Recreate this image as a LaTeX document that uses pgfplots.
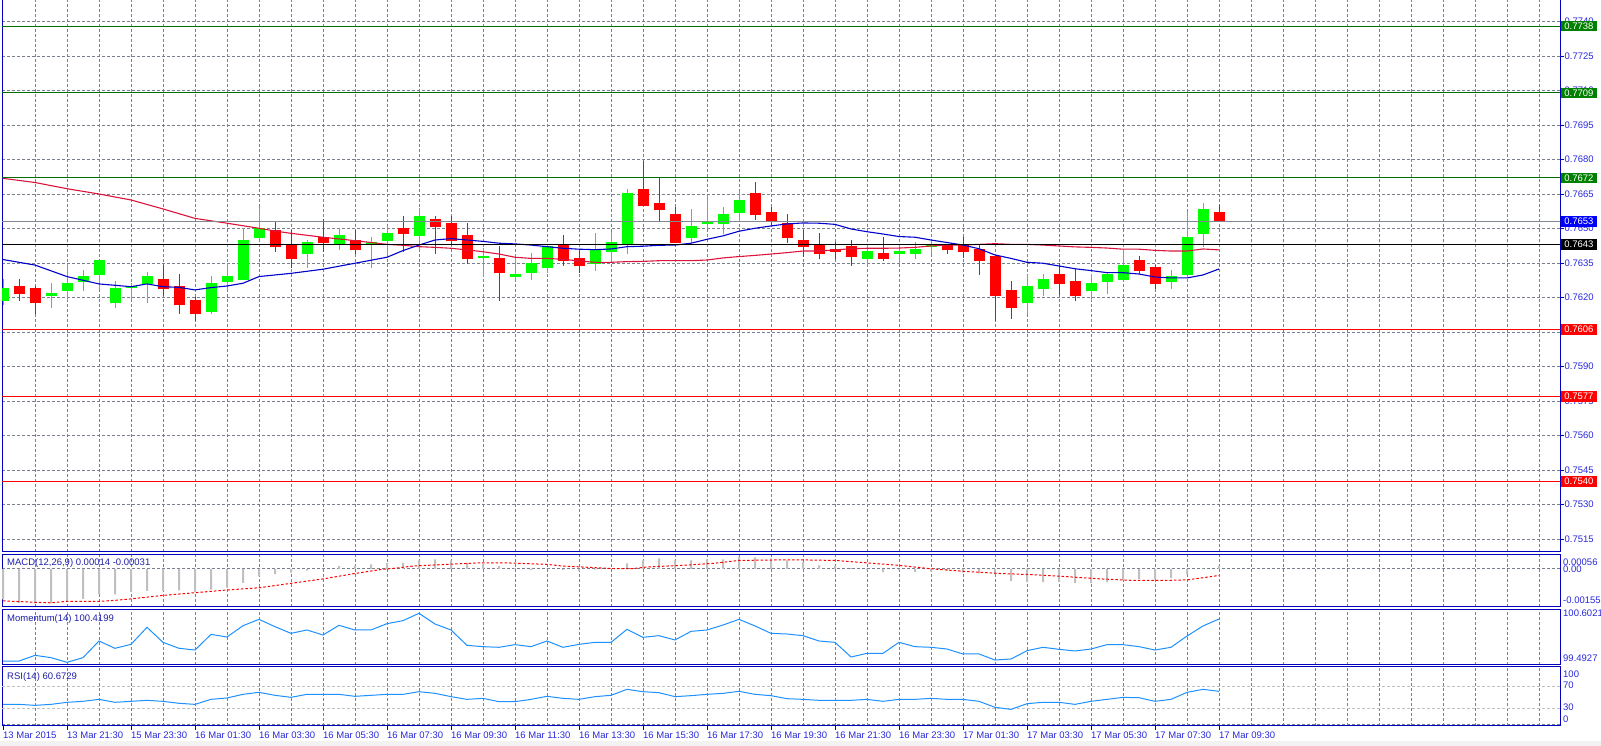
\documentclass[border=0pt]{standalone}
\usepackage{fontspec}
\setmainfont{Liberation Sans}
\usepackage{pgfplots}
\usepackage{pgfplotstable}
\pgfplotsset{compat=1.18}

\definecolor{upc}{RGB}{0,255,0}
\definecolor{dnc}{RGB}{255,0,0}
\definecolor{gridc}{RGB}{119,128,140}
\definecolor{axc}{RGB}{0,0,190}
\definecolor{lblc}{RGB}{40,40,220}
\definecolor{lvlgreen}{RGB}{0,110,0}
\definecolor{boxgreen}{RGB}{0,128,0}
\definecolor{bidgray}{RGB}{128,136,146}
\definecolor{maBlue}{RGB}{0,0,205}
\definecolor{maRed}{RGB}{220,20,60}
\definecolor{histc}{RGB}{192,192,192}
\definecolor{indc}{RGB}{30,144,255}
\definecolor{titlec}{RGB}{30,30,170}
\definecolor{lvlc}{RGB}{192,192,192}

\newcommand{\lf}{\fontsize{9.5bp}{10.5bp}\selectfont}

\pgfplotstableread{
i o h l c
0 0.76186 0.76280 0.76170 0.76243
1 0.76250 0.76280 0.76186 0.76215
2 0.76241 0.76250 0.76128 0.76178
3 0.76208 0.76262 0.76156 0.76220
4 0.76230 0.76346 0.76186 0.76262
5 0.76269 0.76320 0.76230 0.76294
6 0.76298 0.76363 0.76238 0.76363
7 0.76176 0.76272 0.76156 0.76241
8 0.76243 0.76262 0.76196 0.76250
9 0.76259 0.76311 0.76176 0.76294
10 0.76280 0.76341 0.76208 0.76238
11 0.76250 0.76302 0.76128 0.76167
12 0.76189 0.76204 0.76098 0.76128
13 0.76137 0.76294 0.76128 0.76263
14 0.76267 0.76350 0.76230 0.76294
15 0.76276 0.76502 0.76276 0.76450
16 0.76459 0.76594 0.76446 0.76502
17 0.76494 0.76533 0.76398 0.76420
18 0.76430 0.76494 0.76328 0.76369
19 0.76389 0.76450 0.76328 0.76441
20 0.76463 0.76541 0.76398 0.76437
21 0.76433 0.76502 0.76407 0.76472
22 0.76450 0.76494 0.76389 0.76407
23 0.76433 0.76463 0.76328 0.76441
24 0.76446 0.76511 0.76385 0.76481
25 0.76502 0.76555 0.76398 0.76478
26 0.76469 0.76588 0.76402 0.76555
27 0.76541 0.76555 0.76389 0.76508
28 0.76524 0.76555 0.76428 0.76447
29 0.76472 0.76524 0.76346 0.76369
30 0.76376 0.76415 0.76291 0.76381
31 0.76372 0.76424 0.76186 0.76307
32 0.76291 0.76376 0.76278 0.76302
33 0.76308 0.76394 0.76278 0.76350
34 0.76330 0.76433 0.76308 0.76424
35 0.76428 0.76472 0.76338 0.76360
36 0.76372 0.76411 0.76308 0.76338
37 0.76347 0.76481 0.76317 0.76411
38 0.76399 0.76485 0.76352 0.76441
39 0.76433 0.76672 0.76389 0.76655
40 0.76672 0.76794 0.76598 0.76598
41 0.76611 0.76720 0.76533 0.76581
42 0.76563 0.76594 0.76437 0.76437
43 0.76459 0.76585 0.76437 0.76511
44 0.76520 0.76642 0.76498 0.76533
45 0.76520 0.76594 0.76476 0.76563
46 0.76568 0.76663 0.76533 0.76624
47 0.76655 0.76702 0.76537 0.76559
48 0.76572 0.76594 0.76511 0.76528
49 0.76524 0.76563 0.76437 0.76459
50 0.76450 0.76494 0.76376 0.76420
51 0.76428 0.76481 0.76367 0.76389
52 0.76411 0.76441 0.76367 0.76398
53 0.76424 0.76450 0.76337 0.76376
54 0.76367 0.76428 0.76337 0.76402
55 0.76394 0.76463 0.76359 0.76367
56 0.76389 0.76428 0.76346 0.76402
57 0.76389 0.76441 0.76367 0.76411
58 0.76420 0.76450 0.76389 0.76428
59 0.76428 0.76433 0.76389 0.76407
60 0.76428 0.76463 0.76372 0.76398
61 0.76411 0.76428 0.76298 0.76359
62 0.76381 0.76381 0.76098 0.76208
63 0.76233 0.76272 0.76106 0.76154
64 0.76176 0.76298 0.76128 0.76250
65 0.76237 0.76302 0.76208 0.76280
66 0.76302 0.76350 0.76212 0.76259
67 0.76272 0.76324 0.76186 0.76208
68 0.76230 0.76302 0.76186 0.76263
69 0.76269 0.76307 0.76217 0.76302
70 0.76278 0.76407 0.76278 0.76341
71 0.76363 0.76381 0.76302 0.76317
72 0.76333 0.76341 0.76238 0.76260
73 0.76269 0.76320 0.76238 0.76294
74 0.76298 0.76572 0.76298 0.76463
75 0.76478 0.76611 0.76420 0.76585
76 0.76572 0.76602 0.76530 0.76530
}\candles

\pgfplotstableread{
i v
0 0.76365
2 0.76341
4 0.76291
6 0.76259
8 0.76247
9 0.76259
10 0.76247
11 0.76244
12 0.76233
13 0.76243
14 0.76250
15 0.76262
16 0.76291
18 0.76305
20 0.76323
22 0.76349
24 0.76375
25 0.76404
26 0.76428
27 0.76450
28 0.76456
29 0.76450
30 0.76444
31 0.76436
32 0.76433
33 0.76428
34 0.76421
35 0.76414
36 0.76410
37 0.76408
38 0.76411
39 0.76421
40 0.76423
41 0.76427
42 0.76428
43 0.76436
44 0.76453
45 0.76468
46 0.76488
47 0.76501
48 0.76511
49 0.76520
50 0.76524
51 0.76523
52 0.76518
53 0.76498
54 0.76486
55 0.76476
56 0.76465
57 0.76462
58 0.76450
59 0.76439
60 0.76428
61 0.76412
62 0.76385
63 0.76370
64 0.76353
65 0.76349
66 0.76337
67 0.76325
68 0.76317
69 0.76308
70 0.76308
71 0.76302
72 0.76289
73 0.76285
74 0.76285
75 0.76298
76 0.76324
}\mablue

\pgfplotstableread{
i v
0 0.76718
2 0.76700
4 0.76673
6 0.76650
8 0.76624
10 0.76585
12 0.76544
14 0.76523
16 0.76501
17 0.76489
18 0.76479
20 0.76462
22 0.76447
24 0.76431
25 0.76427
26 0.76421
27 0.76418
28 0.76414
29 0.76407
30 0.76399
31 0.76389
32 0.76375
33 0.76370
34 0.76370
35 0.76366
36 0.76359
37 0.76353
38 0.76353
39 0.76356
40 0.76357
41 0.76360
42 0.76360
43 0.76360
44 0.76363
45 0.76372
46 0.76378
47 0.76383
48 0.76389
49 0.76395
50 0.76402
51 0.76402
52 0.76407
53 0.76412
54 0.76414
55 0.76414
56 0.76415
57 0.76418
58 0.76424
59 0.76428
60 0.76428
61 0.76431
62 0.76434
63 0.76431
64 0.76431
65 0.76428
66 0.76424
67 0.76420
68 0.76418
69 0.76415
70 0.76410
71 0.76410
72 0.76405
73 0.76402
74 0.76402
75 0.76411
76 0.76407
}\mared

\pgfplotstableread{
i v
0 -0.00124
1 -0.00138
2 -0.00140
3 -0.00140
4 -0.00132
5 -0.00122
6 -0.00104
7 -0.00104
8 -0.00095
9 -0.00090
10 -0.00090
11 -0.00088
12 -0.00095
13 -0.00084
14 -0.00077
15 -0.00057
16 -0.00030
17 -0.00022
18 -0.00016
19 -0.00007
20 -0.00001
21 0.00011
22 0.00014
23 0.00018
24 0.00023
25 0.00024
26 0.00034
27 0.00038
28 0.00034
29 0.00024
30 0.00018
31 0.00011
32 0.00003
33 -0.00005
34 0.00001
35 -0.00005
36 -0.00008
37 -0.00003
38 0.00001
39 0.00022
40 0.00034
41 0.00042
42 0.00034
43 0.00034
44 0.00038
45 0.00038
46 0.00049
47 0.00046
48 0.00042
49 0.00034
50 0.00027
51 0.00014
52 0.00011
53 0.00003
54 -0.00005
55 -0.00014
56 -0.00005
57 -0.00014
58 -0.00011
59 -0.00008
60 -0.00016
61 -0.00019
62 -0.00023
63 -0.00050
64 -0.00054
65 -0.00054
66 -0.00054
67 -0.00058
68 -0.00058
69 -0.00054
70 -0.00046
71 -0.00041
72 -0.00043
73 -0.00038
74 -0.00023
75 0.00001
76 0.00014
}\macdhist

\pgfplotstableread{
i v
0 -0.00130
2 -0.00136
3 -0.00138
4 -0.00132
6 -0.00132
7 -0.00128
8 -0.00122
10 -0.00108
12 -0.00097
14 -0.00086
16 -0.00077
18 -0.00059
20 -0.00041
22 -0.00019
23.6 -0.00003
24.6 0.00003
25.6 0.00011
27.7 0.00018
29.8 0.00024
31.5 0.00024
34 0.00018
35 0.00011
36 0.00008
38 0.00001
39.4 0.00001
40.2 0.00007
42.4 0.00014
44.4 0.00022
46 0.00034
48.6 0.00036
50 0.00036
52 0.00034
54 0.00024
56 0.00014
58 0.00000
60.2 -0.00011
62.3 -0.00019
64.4 -0.00024
66.5 -0.00032
68.6 -0.00041
70.6 -0.00047
72.7 -0.00047
74 -0.00045
74.8 -0.00038
76 -0.00027
}\macdsig

\pgfplotstableread{
i v
0 99.572
1 99.572
2 99.685
3 99.639
4 99.546
5 99.639
6 99.971
7 99.825
8 99.904
9 100.243
10 99.944
11 99.825
12 99.791
13 100.103
14 100.050
15 100.276
16 100.402
17 100.256
18 100.123
19 100.190
20 100.090
21 100.283
22 100.190
23 100.190
24 100.316
25 100.376
26 100.522
27 100.309
28 100.190
29 99.884
30 99.858
31 99.845
32 99.898
33 99.858
34 99.971
35 99.845
36 99.904
37 99.944
38 99.944
39 100.203
40 100.044
41 100.077
42 99.991
43 100.163
44 100.190
45 100.289
46 100.402
47 100.270
48 100.123
49 100.110
50 100.077
51 99.971
52 99.944
53 99.652
54 99.725
55 99.725
56 99.944
57 99.858
58 99.845
59 99.811
60 99.712
61 99.712
62 99.592
63 99.612
64 99.778
65 99.845
66 99.805
67 99.772
68 99.811
69 99.898
70 99.898
71 99.858
72 99.791
73 99.845
74 100.070
75 100.270
76 100.409
}\mom

\pgfplotstableread{
i v
0 37.2
1 37.2
2 35.4
3 37.2
4 40.9
5 42.7
6 46.3
7 40.9
8 42.7
9 44.5
10 42.7
11 39.1
12 37.2
13 46.3
14 48.8
15 55.4
16 59.1
17 53.6
18 50.0
19 55.4
20 55.4
21 55.4
22 51.8
23 53.6
24 55.4
25 55.4
26 60.2
27 57.2
28 51.2
29 46.3
30 48.1
31 42.1
32 42.1
33 46.3
34 51.8
35 48.1
36 46.3
37 51.2
38 53.6
39 64.5
40 60.2
41 58.4
42 51.2
43 53.0
44 55.4
45 57.2
46 60.9
47 55.4
48 53.0
49 47.5
50 46.3
51 44.5
52 44.5
53 44.5
54 46.3
55 42.7
56 46.3
57 46.3
58 48.1
59 46.3
60 46.3
61 42.7
62 31.8
63 28.1
64 38.4
65 40.9
66 40.9
67 37.2
68 42.7
69 46.3
70 49.9
71 49.3
72 42.7
73 46.3
74 59.0
75 64.5
76 60.9
}\rsi

\tikzset{
  sublbl/.style={anchor=west, font=\lf, text=lblc, inner sep=0pt, xshift=3bp},
  ttl/.style={anchor=west, font=\lf, text=titlec, inner sep=0pt, xshift=5bp},
  lvlbox/.style={anchor=west, font=\lf, text=white, inner xsep=3.2bp, inner ysep=0pt, minimum height=10.5bp, xshift=1bp},
}
\pgfplotsset{
  /pgf/number format/assume math mode=true,
  chartbase/.style={
    scale only axis, width=1558bp, xmin=-0.0625, xmax=97.3125,
    anchor=south west,
    axis line style={draw=axc, line width=1bp},
    xtick={2,4,...,96}, xticklabels={}, xmajorgrids,
    xtick style={draw=none},
    grid style={gridc, dash pattern=on 3bp off 2bp, line width=0.8bp},
    clip mode=individual,
    scaled y ticks=false,
    tick label style={font=\lf, text=lblc},
  },
  candle/.style={draw=none, mark=none, forget plot,
    error bars/.cd, y dir=both, y explicit, error mark=none},
}

\begin{document}
\begin{tikzpicture}
\useasboundingbox (0,0) rectangle (1601bp,746bp);
\fill[gray!10] (0,0) rectangle (1601bp,5bp);

% ---------------- main price panel
\begin{axis}[chartbase, at={(2bp,194bp)}, height=552bp,
  ymin=0.750935, ymax=0.774935,
  ytick={0.7515,0.7530,0.7545,0.7560,0.7575,0.7590,0.7605,0.7620,0.7635,0.7650,0.7665,0.7680,0.7695,0.7710,0.7725,0.7740},
  ymajorgrids, ytick pos=right, yticklabel pos=right,
  ytick style={draw=axc, line width=0.8bp},
  tick align=outside, major tick length=4bp,
  yticklabel style={inner xsep=0.5bp, /pgf/number format/.cd, fixed, fixed zerofill, precision=4},
]
% wicks
\addplot[x filter/.expression={(\thisrow{c}>=\thisrow{o}) ? x : nan},
  candle, error bar style={draw=upc, line width=1bp}]
  table[x=i, y expr={(\thisrow{h}+\thisrow{l})/2}, y error expr={(\thisrow{h}-\thisrow{l})/2}] {\candles};
\addplot[x filter/.expression={(\thisrow{c}<\thisrow{o}) ? x : nan},
  candle, error bar style={draw=dnc, line width=1bp}]
  table[x=i, y expr={(\thisrow{h}+\thisrow{l})/2}, y error expr={(\thisrow{h}-\thisrow{l})/2}] {\candles};
% bodies
\addplot[x filter/.expression={(\thisrow{c}>=\thisrow{o}) ? x : nan},
  candle, error bar style={draw=upc, line width=11bp}]
  table[x=i, y expr={(\thisrow{o}+\thisrow{c})/2}, y error expr={max(abs(\thisrow{c}-\thisrow{o})/2,0.00002)}] {\candles};
\addplot[x filter/.expression={(\thisrow{c}<\thisrow{o}) ? x : nan},
  candle, error bar style={draw=dnc, line width=11bp}]
  table[x=i, y expr={(\thisrow{o}+\thisrow{c})/2}, y error expr={max(abs(\thisrow{c}-\thisrow{o})/2,0.00002)}] {\candles};
% moving averages
\addplot[maRed, line width=1.1bp, mark=none] table[x=i, y=v] {\mared};
\addplot[maBlue, line width=1.1bp, mark=none] table[x=i, y=v] {\mablue};
% levels
\addplot[lvlgreen, line width=1.1bp] coordinates {(-1,0.7738) (98,0.7738)};
\addplot[lvlgreen, line width=1.1bp] coordinates {(-1,0.7709) (98,0.7709)};
\addplot[lvlgreen, line width=1.1bp] coordinates {(-1,0.7672) (98,0.7672)};
\addplot[bidgray, line width=1.1bp] coordinates {(-1,0.7653) (98,0.7653)};
\addplot[black, line width=1.1bp] coordinates {(-1,0.7643) (98,0.7643)};
\addplot[dnc, line width=1.1bp] coordinates {(-1,0.7606) (98,0.7606)};
\addplot[dnc, line width=1.1bp] coordinates {(-1,0.7577) (98,0.7577)};
\addplot[dnc, line width=1.1bp] coordinates {(-1,0.7540) (98,0.7540)};
\coordinate (b1) at (axis cs:97.3125,0.7738);
\coordinate (b2) at (axis cs:97.3125,0.7709);
\coordinate (b3) at (axis cs:97.3125,0.7672);
\coordinate (b4) at (axis cs:97.3125,0.7653);
\coordinate (b5) at (axis cs:97.3125,0.7643);
\coordinate (b6) at (axis cs:97.3125,0.7606);
\coordinate (b7) at (axis cs:97.3125,0.7577);
\coordinate (b8) at (axis cs:97.3125,0.7540);
\end{axis}
\node[lvlbox, fill=boxgreen] at (b1) {0.7738};
\node[lvlbox, fill=boxgreen] at (b2) {0.7709};
\node[lvlbox, fill=boxgreen] at (b3) {0.7672};
\node[lvlbox, fill=blue] at (b4) {0.7653};
\node[lvlbox, fill=black] at (b5) {0.7643};
\node[lvlbox, fill=dnc] at (b6) {0.7606};
\node[lvlbox, fill=dnc] at (b7) {0.7577};
\node[lvlbox, fill=dnc] at (b8) {0.7540};

% ---------------- MACD
\begin{axis}[chartbase, at={(2bp,139bp)}, height=52bp,
  ymin=-0.00155, ymax=0.00056,
  ytick={0}, yticklabels={}, ymajorgrids, ytick style={draw=none}]
\addplot[ybar, bar width=2bp, fill=histc, draw=none, forget plot] table[x=i, y=v] {\macdhist};
\addplot[dnc, line width=1bp, mark=none, dash pattern=on 2.5bp off 2bp] table[x=i, y=v] {\macdsig};
\node[ttl] at (rel axis cs:0,0.846) {MACD(12,26,9) 0.00014 -0.00031};
\node[sublbl] at (rel axis cs:1,0.865) {0.00056};
\node[sublbl] at (rel axis cs:1,0.731) {0.00};
\node[sublbl] at (rel axis cs:1,0.135) {-0.00155};
\end{axis}

% ---------------- Momentum
\begin{axis}[chartbase, at={(2bp,81bp)}, height=55.7bp,
  ymin=99.4927, ymax=100.6021, ytick=\empty]
\addplot[indc, line width=1bp, mark=none] table[x=i, y=v] {\mom};
\node[ttl] at (rel axis cs:0,0.826) {Momentum(14) 100.4199};
\node[sublbl] at (rel axis cs:1,0.934) {100.6021};
\node[sublbl] at (rel axis cs:1,0.126) {99.4927};
\end{axis}

% ---------------- RSI
\begin{axis}[chartbase, at={(2bp,20.3bp)}, height=58.7bp,
  ymin=-1.6, ymax=105.1,
  ytick={0}, yticklabels={}, ymajorgrids, ytick style={draw=none},
  xtick pos=left,
  extra x ticks={0,4,...,76},
  extra x tick labels={13 Mar 2015,13 Mar 21:30,15 Mar 23:30,16 Mar 01:30,16 Mar 03:30,16 Mar 05:30,16 Mar 07:30,16 Mar 09:30,16 Mar 11:30,16 Mar 13:30,16 Mar 15:30,16 Mar 17:30,16 Mar 19:30,16 Mar 21:30,16 Mar 23:30,17 Mar 01:30,17 Mar 03:30,17 Mar 05:30,17 Mar 07:30,17 Mar 09:30},
  extra x tick style={grid=none, tick align=outside, major tick length=4bp,
    xtick style={draw=axc, line width=0.8bp},
    xticklabel style={anchor=north west, inner sep=0pt, yshift=-2bp}},
]
\addplot[lvlc, line width=0.8bp, dash pattern=on 3bp off 2bp] coordinates {(-1,70) (98,70)};
\addplot[lvlc, line width=0.8bp, dash pattern=on 3bp off 2bp] coordinates {(-1,30) (98,30)};
\addplot[indc, line width=1bp, mark=none] table[x=i, y=v] {\rsi};
\node[ttl] at (rel axis cs:0,0.835) {RSI(14) 60.6729};
\node[sublbl] at (rel axis cs:1,0.881) {100};
\node[sublbl] at (rel axis cs:1,0.693) {70};
\node[sublbl] at (rel axis cs:1,0.319) {30};
\node[sublbl] at (rel axis cs:1,0.114) {0};
\end{axis}
\end{tikzpicture}
\end{document}
